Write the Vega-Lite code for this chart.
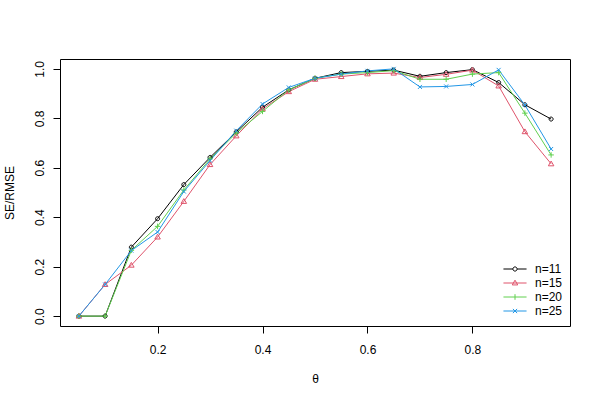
{
  "$schema": "https://vega.github.io/schema/vega-lite/v6.json",
  "width": 510,
  "height": 267,
  "autosize": "none",
  "padding": {"left": 60, "top": 59, "right": 30, "bottom": 74},
  "background": "white",
  "config": {
    "view": {"stroke": "black", "strokeWidth": 1},
    "font": "Liberation Sans",
    "axis": {
      "domain": false,
      "grid": false,
      "ticks": true,
      "tickColor": "black",
      "tickSize": 7,
      "tickWidth": 1,
      "labelFont": "Liberation Sans",
      "labelFontSize": 12,
      "labelColor": "black",
      "titleFont": "Liberation Sans",
      "titleFontSize": 12,
      "titleFontWeight": "normal",
      "titleColor": "black"
    },
    "legend": {
      "labelFont": "Liberation Sans",
      "labelFontSize": 12,
      "labelColor": "black"
    }
  },
  "data": {
    "values": [
      {"theta": 0.05, "n": "n=11", "v": 0}, {"theta": 0.05, "n": "n=15", "v": 0}, {"theta": 0.05, "n": "n=20", "v": 0}, {"theta": 0.05, "n": "n=25", "v": 0},
      {"theta": 0.10, "n": "n=11", "v": 0}, {"theta": 0.10, "n": "n=15", "v": 0.128}, {"theta": 0.10, "n": "n=20", "v": 0}, {"theta": 0.10, "n": "n=25", "v": 0.128},
      {"theta": 0.15, "n": "n=11", "v": 0.279}, {"theta": 0.15, "n": "n=15", "v": 0.206}, {"theta": 0.15, "n": "n=20", "v": 0.266}, {"theta": 0.15, "n": "n=25", "v": 0.265},
      {"theta": 0.20, "n": "n=11", "v": 0.394}, {"theta": 0.20, "n": "n=15", "v": 0.32}, {"theta": 0.20, "n": "n=20", "v": 0.363}, {"theta": 0.20, "n": "n=25", "v": 0.34},
      {"theta": 0.25, "n": "n=11", "v": 0.532}, {"theta": 0.25, "n": "n=15", "v": 0.464}, {"theta": 0.25, "n": "n=20", "v": 0.51}, {"theta": 0.25, "n": "n=25", "v": 0.504},
      {"theta": 0.30, "n": "n=11", "v": 0.642}, {"theta": 0.30, "n": "n=15", "v": 0.613}, {"theta": 0.30, "n": "n=20", "v": 0.636}, {"theta": 0.30, "n": "n=25", "v": 0.629},
      {"theta": 0.35, "n": "n=11", "v": 0.745}, {"theta": 0.35, "n": "n=15", "v": 0.729}, {"theta": 0.35, "n": "n=20", "v": 0.74}, {"theta": 0.35, "n": "n=25", "v": 0.75},
      {"theta": 0.40, "n": "n=11", "v": 0.845}, {"theta": 0.40, "n": "n=15", "v": 0.838}, {"theta": 0.40, "n": "n=20", "v": 0.828}, {"theta": 0.40, "n": "n=25", "v": 0.858},
      {"theta": 0.45, "n": "n=11", "v": 0.915}, {"theta": 0.45, "n": "n=15", "v": 0.908}, {"theta": 0.45, "n": "n=20", "v": 0.915}, {"theta": 0.45, "n": "n=25", "v": 0.925},
      {"theta": 0.50, "n": "n=11", "v": 0.962}, {"theta": 0.50, "n": "n=15", "v": 0.958}, {"theta": 0.50, "n": "n=20", "v": 0.962}, {"theta": 0.50, "n": "n=25", "v": 0.962},
      {"theta": 0.55, "n": "n=11", "v": 0.985}, {"theta": 0.55, "n": "n=15", "v": 0.969}, {"theta": 0.55, "n": "n=20", "v": 0.979}, {"theta": 0.55, "n": "n=25", "v": 0.979},
      {"theta": 0.60, "n": "n=11", "v": 0.99}, {"theta": 0.60, "n": "n=15", "v": 0.98}, {"theta": 0.60, "n": "n=20", "v": 0.985}, {"theta": 0.60, "n": "n=25", "v": 0.992},
      {"theta": 0.65, "n": "n=11", "v": 0.995}, {"theta": 0.65, "n": "n=15", "v": 0.983}, {"theta": 0.65, "n": "n=20", "v": 0.993}, {"theta": 0.65, "n": "n=25", "v": 1.0},
      {"theta": 0.70, "n": "n=11", "v": 0.97}, {"theta": 0.70, "n": "n=15", "v": 0.965}, {"theta": 0.70, "n": "n=20", "v": 0.958}, {"theta": 0.70, "n": "n=25", "v": 0.927},
      {"theta": 0.75, "n": "n=11", "v": 0.985}, {"theta": 0.75, "n": "n=15", "v": 0.978}, {"theta": 0.75, "n": "n=20", "v": 0.958}, {"theta": 0.75, "n": "n=25", "v": 0.929},
      {"theta": 0.80, "n": "n=11", "v": 0.997}, {"theta": 0.80, "n": "n=15", "v": 0.995}, {"theta": 0.80, "n": "n=20", "v": 0.979}, {"theta": 0.80, "n": "n=25", "v": 0.937},
      {"theta": 0.85, "n": "n=11", "v": 0.945}, {"theta": 0.85, "n": "n=15", "v": 0.931}, {"theta": 0.85, "n": "n=20", "v": 0.985}, {"theta": 0.85, "n": "n=25", "v": 0.996},
      {"theta": 0.90, "n": "n=11", "v": 0.855}, {"theta": 0.90, "n": "n=15", "v": 0.746}, {"theta": 0.90, "n": "n=20", "v": 0.821}, {"theta": 0.90, "n": "n=25", "v": 0.854},
      {"theta": 0.95, "n": "n=11", "v": 0.797}, {"theta": 0.95, "n": "n=15", "v": 0.616}, {"theta": 0.95, "n": "n=20", "v": 0.652}, {"theta": 0.95, "n": "n=25", "v": 0.676}
    ]
  },
  "encoding": {
    "x": {
      "field": "theta", "type": "quantitative",
      "scale": {"domain": [0.014, 0.986], "nice": false, "zero": false},
      "axis": {
        "values": [0.2, 0.4, 0.6, 0.8], "format": ".1f",
        "title": "θ", "labelBaseline": "alphabetic", "labelPadding": 20,
        "labelFlush": false, "labelOverlap": false,
        "titleX": 255, "titleY": 56, "titleAlign": "center", "titleBaseline": "alphabetic"
      }
    },
    "y": {
      "field": "v", "type": "quantitative",
      "scale": {"domain": [-0.04, 1.04], "nice": false, "zero": false},
      "axis": {
        "values": [0, 0.2, 0.4, 0.6, 0.8, 1.0], "format": ".1f",
        "title": "SE/RMSE", "labelAngle": -90, "labelAlign": "center", "labelBaseline": "alphabetic",
        "labelPadding": 10, "labelFlush": false, "labelOverlap": false,
        "titleX": -47, "titleY": 133.5, "titleAngle": -90, "titleAlign": "center", "titleBaseline": "alphabetic"
      }
    },
    "color": {
      "field": "n", "type": "nominal",
      "scale": {"domain": ["n=11", "n=15", "n=20", "n=25"], "range": ["#000000", "#DF536B", "#61D04F", "#2297E6"]},
      "legend": {
        "orient": "none", "legendX": 449, "legendY": 204, "title": null,
        "symbolSize": 49, "symbolStrokeWidth": 1, "labelOffset": 14, "rowPadding": 2, "padding": 0,
        "encode": {
          "symbols": {
            "update": {
              "shape": {"signal": "datum.value==='n=11'?'M-3.3,0L-0.6,0M0.6,0L3.3,0M-0.6,0A0.6,0.6,0,1,0,0.6,0A0.6,0.6,0,1,0,-0.6,0':datum.value==='n=15'?'M-3.3,0L3.3,0M0,-0.8L0.79,0.55L-0.79,0.55Z':datum.value==='n=20'?'M-3.3,0L3.3,0M0,-0.8L0,0.8':'M-3.3,0L3.3,0M-0.6,-0.6L0.6,0.6M-0.6,0.6L0.6,-0.6'"},
              "fill": {"value": "transparent"},
              "strokeWidth": {"value": 1}
            }
          }
        }
      }
    }
  },
  "layer": [
    {
      "mark": {"type": "line", "strokeWidth": 1}
    },
    {
      "transform": [{"filter": "datum.n === 'n=11'"}],
      "mark": {"type": "point", "filled": false, "strokeWidth": 1, "size": 25, "opacity": 1, "shape": "M-0.8,0A0.8,0.8,0,1,0,0.8,0A0.8,0.8,0,1,0,-0.8,0"}
    },
    {
      "transform": [{"filter": "datum.n === 'n=15'"}],
      "mark": {"type": "point", "filled": false, "strokeWidth": 1, "size": 25, "opacity": 1, "shape": "M0,-1.1L1.1,0.8L-1.1,0.8Z"}
    },
    {
      "transform": [{"filter": "datum.n === 'n=20'"}],
      "mark": {"type": "point", "filled": false, "strokeWidth": 1, "size": 25, "opacity": 1, "shape": "M-1.1,0L1.1,0M0,-1.1L0,1.1"}
    },
    {
      "transform": [{"filter": "datum.n === 'n=25'"}],
      "mark": {"type": "point", "filled": false, "strokeWidth": 1, "size": 25, "opacity": 1, "shape": "M-0.8,-0.8L0.8,0.8M-0.8,0.8L0.8,-0.8"}
    }
  ]
}
